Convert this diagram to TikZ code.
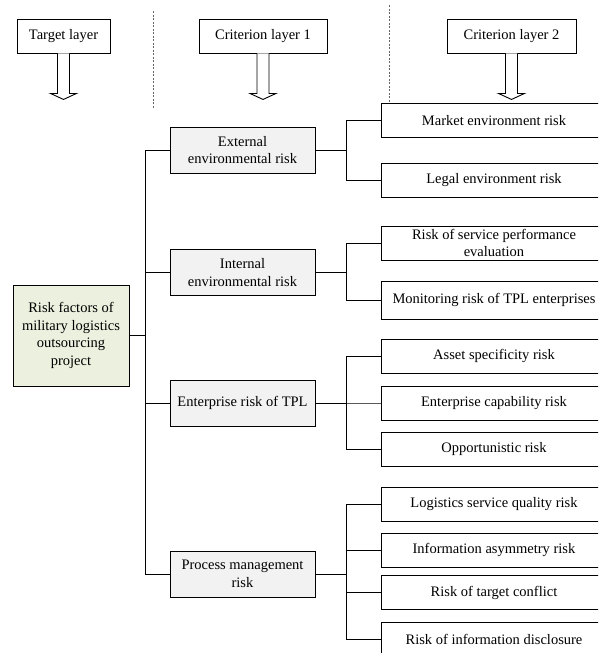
\documentclass[tikz,border=0pt]{standalone}
\usepackage{fontspec}
\setmainfont{Liberation Serif}
\usepackage{tikz}
\usetikzlibrary{shapes,arrows}
\definecolor{rootfill}{HTML}{EBF1DE}
\definecolor{critfill}{HTML}{F2F2F2}
\newcommand{\diafont}{\fontsize{14.5}{17.7}\selectfont}
\tikzstyle{layerbox} = [rectangle, draw, fill=white,
    minimum height=34, inner sep=2pt]
\tikzstyle{rootbox} = [rectangle, draw, fill=rootfill,
    align=center, minimum width=116, minimum height=101]
\tikzstyle{critbox} = [rectangle, draw, fill=critfill,
    align=center, minimum width=145, minimum height=46]
\tikzstyle{factor} = [rectangle, draw, fill=white,
    align=center, minimum width=226, minimum height=34, inner ysep=3pt]
\tikzstyle{line} = [draw]
\tikzstyle{hollow} = [draw, fill=white]
\tikzstyle{sep} = [draw, black!60, line width=0.8pt, dash pattern=on 2pt off 1.5pt]

\begin{document}
\begin{tikzpicture}[x=1pt, y=-1pt, line width=0.9pt, font=\diafont]
\clip (0,0) rectangle (598,653);
    % Place nodes
\node[layerbox, minimum width=93] (tgt) at (63.5,36) {Target layer};
\node[layerbox, minimum width=128] (crit1) at (263,36) {Criterion layer 1};
\node[layerbox, minimum width=129] (crit2) at (511.5,36) {Criterion layer 2};

\node[rootbox] (root) at (71,335.5) {Risk factors of\\military logistics\\outsourcing\\project};

\node[critbox] (ext) at (242.5,150) {External\\environmental risk};
\node[critbox] (int) at (242.5,272.5) {Internal\\environmental risk};
\node[critbox] (ent) at (242.5,403) {Enterprise risk of TPL};
\node[critbox] (proc) at (242.5,574) {Process management\\risk};

\node[factor] (mkt) at (494,120.5) {Market environment risk};
\node[factor] (legal) at (494,180) {Legal environment risk};
\node[factor] (serv) at (494,243) {Risk of service performance\\evaluation};
\node[factor, minimum height=38] (mon) at (494,300) {Monitoring risk of TPL enterprises};
\node[factor] (asset) at (494,356) {Asset specificity risk};
\node[factor] (cap) at (494,403) {Enterprise capability risk};
\node[factor] (opp) at (494,449.5) {Opportunistic risk};
\node[factor] (logq) at (494,504) {Logistics service quality risk};
\node[factor] (asym) at (494,550) {Information asymmetry risk};
\node[factor] (conf) at (494,592.5) {Risk of target conflict};
\node[factor] (disc) at (494,639) {Risk of information disclosure};

    % Layer separators and arrows
\path[sep] (153,11) -- (153,108);
\path[sep] (389,5) -- (389,103);
\path[hollow] (tgt.south) ++(-6,0) -- ++(0,40) -- ++(-7,0) -- ++(13,6) -- ++(13,-6) -- ++(-7,0) -- ++(0,-40);
\path[hollow] (crit1.south) ++(-6,0) -- ++(0,40) -- ++(-7,0) -- ++(13,6) -- ++(13,-6) -- ++(-7,0) -- ++(0,-40);
\path[hollow] (crit2.south) ++(-6,0) -- ++(0,40) -- ++(-7,0) -- ++(13,6) -- ++(13,-6) -- ++(-7,0) -- ++(0,-40);

    % Draw edges
\path [line] (ext.west) -- ++(-24,0) |- (root.east);
\path [line] (int.west) -- ++(-24,0) |- (root.east);
\path [line] (ent.west) -- ++(-24,0) |- (root.east);
\path [line] (proc.west) -- ++(-24,0) |- (root.east);

\path [line] (mkt.west) -- ++(-34,0) |- (ext.east);
\path [line] (legal.west) -- ++(-34,0) |- (ext.east);
\path [line] (serv.west) -- ++(-34,0) |- (int.east);
\path [line] (mon.west) -- ++(-34,0) |- (int.east);
\path [line] (asset.west) -- ++(-34,0) |- (ent.east);
\path [line] (cap.west) -- ++(-34,0) |- (ent.east);
\path [line] (opp.west) -- ++(-34,0) |- (ent.east);
\path [line] (logq.west) -- ++(-34,0) |- (proc.east);
\path [line] (asym.west) -- ++(-34,0) |- (proc.east);
\path [line] (conf.west) -- ++(-34,0) |- (proc.east);
\path [line] (disc.west) -- ++(-34,0) |- (proc.east);

\end{tikzpicture}
\end{document}
